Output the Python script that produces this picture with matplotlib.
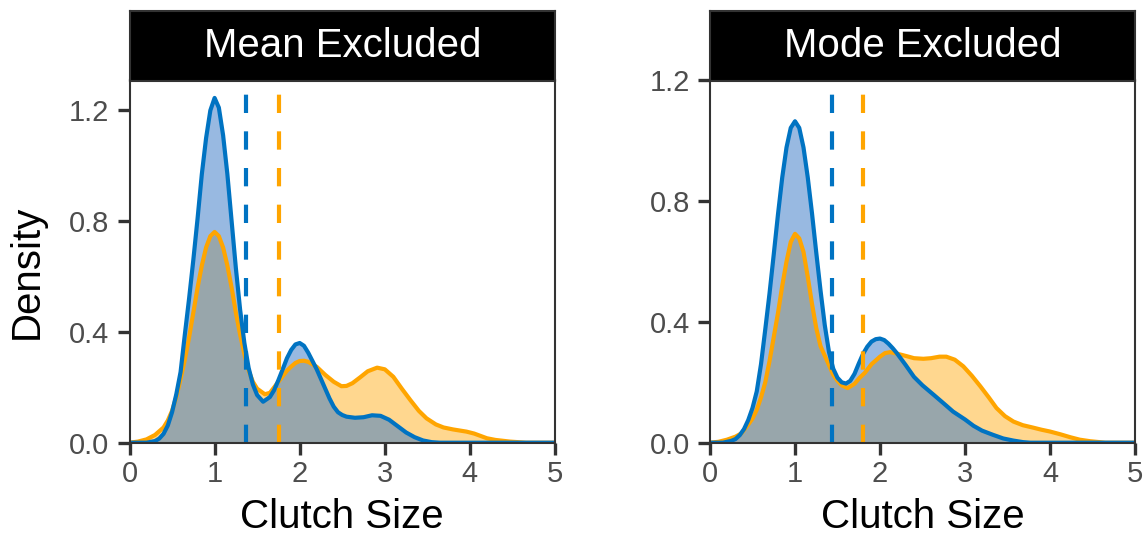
import matplotlib
matplotlib.use('Agg')
import matplotlib.pyplot as plt

plt.rcParams['font.family'] = ['Liberation Sans', 'DejaVu Sans']

# values (clutch size, density)
mean_blue_x = [0.0, 0.2, 0.3, 0.35, 0.4, 0.45, 0.5, 0.55, 0.6, 0.65, 0.7, 0.75, 0.8, 0.85, 0.9, 0.95,
               1.0, 1.05, 1.1, 1.15, 1.2, 1.25, 1.3, 1.35, 1.4, 1.45, 1.5, 1.57, 1.65, 1.7, 1.75, 1.8,
               1.85, 1.9, 1.95, 2.0, 2.05, 2.1, 2.15, 2.2, 2.25, 2.3, 2.35, 2.4, 2.45, 2.5, 2.55, 2.65,
               2.75, 2.85, 2.95, 3.05, 3.15, 3.25, 3.35, 3.45, 3.55, 3.65, 5.0]
mean_blue_y = [0.0, 0.0, 0.006, 0.015, 0.032, 0.062, 0.11, 0.175, 0.255, 0.39, 0.52, 0.66, 0.81, 0.97, 1.1, 1.2,
               1.245, 1.21, 1.11, 0.97, 0.80, 0.63, 0.48, 0.36, 0.27, 0.21, 0.172, 0.148, 0.165, 0.19, 0.226, 0.265,
               0.305, 0.335, 0.355, 0.36, 0.35, 0.325, 0.295, 0.265, 0.23, 0.195, 0.16, 0.13, 0.11, 0.1, 0.094, 0.09,
               0.092, 0.099, 0.097, 0.083, 0.06, 0.037, 0.02, 0.008, 0.002, 0.0, 0.0]
mean_orange_x = [0.0, 0.1, 0.2, 0.3, 0.4, 0.45, 0.5, 0.55, 0.6, 0.65, 0.7, 0.75, 0.8, 0.85, 0.9, 0.95,
                 1.0, 1.05, 1.1, 1.15, 1.2, 1.25, 1.3, 1.35, 1.4, 1.45, 1.5, 1.59, 1.65, 1.7, 1.75, 1.8,
                 1.85, 1.9, 1.95, 2.0, 2.05, 2.1, 2.15, 2.2, 2.3, 2.4, 2.49, 2.55, 2.62, 2.71, 2.8, 2.91,
                 3.0, 3.1, 3.2, 3.3, 3.4, 3.49, 3.6, 3.69, 3.8, 3.9, 3.96, 4.05, 4.2, 4.3, 4.47, 4.66, 5.0]
mean_orange_y = [0.0, 0.004, 0.012, 0.028, 0.055, 0.08, 0.115, 0.165, 0.23, 0.30, 0.38, 0.47, 0.56, 0.64, 0.705, 0.746,
                 0.761, 0.746, 0.705, 0.64, 0.56, 0.47, 0.39, 0.32, 0.26, 0.22, 0.195, 0.175, 0.18, 0.2, 0.22, 0.24,
                 0.26, 0.275, 0.288, 0.295, 0.296, 0.292, 0.283, 0.274, 0.245, 0.22, 0.204, 0.205, 0.215, 0.236, 0.258, 0.271,
                 0.265, 0.238, 0.195, 0.154, 0.115, 0.088, 0.066, 0.055, 0.048, 0.043, 0.040, 0.033, 0.016, 0.01, 0.004, 0.0, 0.0]

mode_blue_x = [0.0, 0.15, 0.25, 0.3, 0.35, 0.4, 0.45, 0.5, 0.55, 0.6, 0.65, 0.7, 0.75, 0.8, 0.85, 0.9, 0.95,
               1.0, 1.05, 1.1, 1.15, 1.2, 1.25, 1.3, 1.35, 1.4, 1.45, 1.5, 1.55, 1.6, 1.65, 1.7, 1.75, 1.8,
               1.85, 1.9, 1.95, 2.0, 2.05, 2.1, 2.15, 2.2, 2.3, 2.4, 2.5, 2.63, 2.75, 2.86, 3.0, 3.1,
               3.2, 3.33, 3.45, 3.57, 3.68, 3.77, 5.0]
mode_blue_y = [0.0, 0.0, 0.006, 0.012, 0.025, 0.045, 0.075, 0.115, 0.17, 0.26, 0.375, 0.494, 0.624, 0.757, 0.879, 0.978, 1.043,
               1.065, 1.043, 0.978, 0.879, 0.76, 0.63, 0.505, 0.39, 0.3, 0.245, 0.215, 0.2, 0.196, 0.205, 0.228, 0.262, 0.294,
               0.318, 0.335, 0.343, 0.345, 0.34, 0.328, 0.313, 0.296, 0.258, 0.218, 0.19, 0.159, 0.13, 0.103, 0.077, 0.056,
               0.04, 0.026, 0.014, 0.007, 0.002, 0.0, 0.0]
mode_orange_x = [0.0, 0.1, 0.2, 0.3, 0.37, 0.45, 0.5, 0.55, 0.6, 0.65, 0.7, 0.75, 0.8, 0.85, 0.9, 0.95,
                 1.0, 1.05, 1.1, 1.15, 1.2, 1.25, 1.3, 1.37, 1.45, 1.5, 1.55, 1.62, 1.7, 1.76, 1.82, 1.9,
                 2.0, 2.06, 2.12, 2.2, 2.31, 2.4, 2.51, 2.6, 2.7, 2.78, 2.88, 2.98, 3.08, 3.18, 3.28, 3.37,
                 3.47, 3.57, 3.68, 3.8, 3.9, 4.0, 4.12, 4.24, 4.35, 4.47, 4.65, 5.0]
mode_orange_y = [0.0, 0.003, 0.01, 0.02, 0.031, 0.06, 0.08, 0.109, 0.15, 0.2, 0.27, 0.35, 0.43, 0.52, 0.6, 0.665,
                 0.692, 0.677, 0.632, 0.55, 0.46, 0.38, 0.32, 0.276, 0.225, 0.205, 0.19, 0.181, 0.195, 0.215, 0.231, 0.26,
                 0.285, 0.297, 0.30, 0.295, 0.287, 0.28, 0.278, 0.28, 0.285, 0.285, 0.275, 0.253, 0.222, 0.187, 0.15, 0.115,
                 0.088, 0.07, 0.058, 0.05, 0.043, 0.037, 0.028, 0.018, 0.01, 0.005, 0.0, 0.0]

titles = ['Mean Excluded', 'Mode Excluded']
blue_centre = [1.37, 1.43]
orange_centre = [1.757, 1.80]
y_top = [1.308, 1.2]

blue = '#0073C2'
blue_fill = '#3A79C6'
orange = '#FFA500'
dark = '#333333'

fig = plt.figure(figsize=(11.48, 5.37), dpi=100)
W, H = 1148, 537

panels = [(129.5, 555.0), (710.0, 1135.0)]
series = [(mean_blue_x, mean_blue_y, mean_orange_x, mean_orange_y),
          (mode_blue_x, mode_blue_y, mode_orange_x, mode_orange_y)]

for i, (l, r) in enumerate(panels):
    ax = fig.add_axes([l / W, (H - 442.7) / H, (r - l) / W, (442.7 - 80.5) / H])
    bx, by, ox, oy = series[i]
    ax.fill_between(ox, oy, color=orange, alpha=0.44, lw=0)
    ax.plot(ox, oy, color=orange, lw=3.0, solid_joinstyle='round')
    ax.fill_between(bx, by, color=blue_fill, alpha=0.52, lw=0)
    ax.plot(bx, by, color=blue, lw=3.0, solid_joinstyle='round')
    ax.axvline(blue_centre[i], color=blue, lw=3.0, ls=(0, (4.4, 4.4)))
    ax.axvline(orange_centre[i], color=orange, lw=3.0, ls=(0, (4.4, 4.4)))
    ax.set_xlim(0, 5)
    ax.set_ylim(0, y_top[i])
    ax.set_xticks([0, 1, 2, 3, 4, 5])
    ax.set_yticks([0.0, 0.4, 0.8, 1.2])
    ax.set_yticklabels(['0.0', '0.4', '0.8', '1.2'])
    for s in ax.spines.values():
        s.set_color(dark)
        s.set_linewidth(1.5)
    ax.tick_params(length=8.5, width=2.4, color=dark, labelsize=21, labelcolor='#4D4D4D')
    ax.tick_params(axis='y', pad=6)
    ax.tick_params(axis='x', pad=4)

    st = fig.add_axes([l / W, (H - 80.5) / H, (r - l) / W, 69.5 / H])
    st.set_facecolor('black')
    st.set_xticks([])
    st.set_yticks([])
    for s in st.spines.values():
        s.set_color(dark)
        s.set_linewidth(1.5)
    st.text(0.5, 0.5, titles[i], color='white', fontsize=29, ha='center', va='center',
            transform=st.transAxes)

    fig.text((l + r) / 2 / W, 9 / H, 'Clutch Size', fontsize=29, ha='center', va='baseline')

fig.text(27 / W, (H - 272) / H, 'Density', fontsize=29, rotation=90, ha='center', va='center')

fig.savefig('out.png', dpi=100)
